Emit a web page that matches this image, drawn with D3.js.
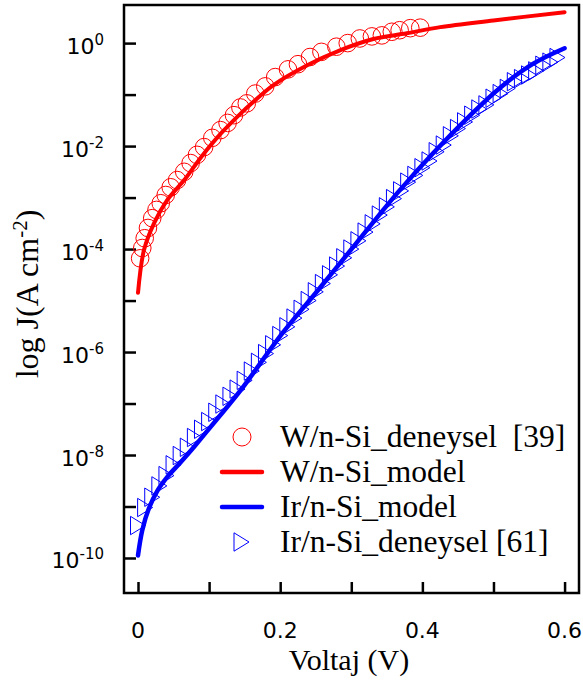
<!DOCTYPE html>
<html>
<head>
<meta charset="utf-8">
<script src="https://cdn.jsdelivr.net/npm/d3@7"></script>
<style>
  body { margin: 0; background: #fff; }
  svg { display: block; }
</style>
</head>
<body>
<svg id="chart"></svg>
<script>
// W/n-Si experimental points (V, log10 J)
const wVolt = [0.003, 0.006, 0.0094, 0.014, 0.020, 0.026, 0.032, 0.039, 0.046, 0.055,
  0.065, 0.074, 0.083, 0.093, 0.1045, 0.116, 0.126, 0.135, 0.144, 0.153,
  0.165, 0.179, 0.193, 0.211, 0.225, 0.242, 0.258, 0.279, 0.295, 0.312,
  0.329, 0.343, 0.357, 0.368, 0.383, 0.397];
const wLogJ = [-4.18, -3.98, -3.79, -3.59, -3.40, -3.24, -3.11, -2.95, -2.80, -2.66,
  -2.50, -2.33, -2.17, -2.02, -1.84, -1.69, -1.55, -1.40, -1.25, -1.17,
  -0.98, -0.84, -0.66, -0.51, -0.41, -0.27, -0.17, -0.07, 0.0, 0.09,
  0.13, 0.15, 0.22, 0.25, 0.29, 0.30];

// W/n-Si model curve
const wModelVolt = [0, 0.0084, 0.0225, 0.041, 0.065, 0.089, 0.117, 0.145, 0.160, 0.190,
  0.238, 0.284, 0.331, 0.378, 0.425, 0.5, 0.6];
const wModelLogJ = [-4.85, -4.02, -3.50, -3.05, -2.66, -2.21, -1.75, -1.36, -1.17, -0.82,
  -0.43, -0.14, 0.08, 0.19, 0.31, 0.44, 0.60];

// Ir/n-Si model curve
const irModelVolt = [0, 0.006, 0.0155, 0.027, 0.041, 0.06, 0.079, 0.0975, 0.121, 0.1445,
  0.204, 0.252, 0.298, 0.345, 0.368, 0.415, 0.463, 0.509, 0.556, 0.6];
const irModelLogJ = [-9.95, -9.46, -9.03, -8.70, -8.43, -8.14, -7.84, -7.53, -7.14, -6.74,
  -5.62, -4.82, -4.04, -3.24, -2.86, -2.14, -1.46, -0.87, -0.40, -0.10];

// Ir/n-Si experimental points
const irVolt = [0, 0.01, 0.02, 0.03, 0.04, 0.05, 0.06, 0.07, 0.08, 0.09,
  0.10, 0.11, 0.12, 0.13, 0.14, 0.15, 0.16, 0.17, 0.18, 0.19,
  0.20, 0.21, 0.22, 0.23, 0.24, 0.25, 0.26, 0.27, 0.28, 0.29,
  0.30, 0.31, 0.32, 0.33, 0.34, 0.35, 0.36, 0.37, 0.38, 0.39,
  0.40, 0.41, 0.42, 0.43, 0.44, 0.45, 0.46, 0.47, 0.48, 0.49,
  0.50, 0.51, 0.52, 0.53, 0.54, 0.55, 0.56, 0.57, 0.58, 0.59];
const irLogJ = [-9.37, -9.02, -8.82, -8.60, -8.40, -8.19, -8.01, -7.85, -7.66, -7.50,
  -7.35, -7.17, -7.01, -6.86, -6.72, -6.55, -6.37, -6.20, -6.03, -5.86,
  -5.68, -5.51, -5.34, -5.17, -5.00, -4.83, -4.67, -4.50, -4.33, -4.17,
  -4.00, -3.84, -3.67, -3.51, -3.34, -3.18, -3.02, -2.87, -2.70, -2.57,
  -2.42, -2.29, -2.11, -1.98, -1.80, -1.66, -1.53, -1.40, -1.28, -1.20,
  -1.07, -0.98, -0.88, -0.75, -0.69, -0.62, -0.54, -0.43, -0.37, -0.28];

const xTicks = [0, 0.1, 0.2, 0.3, 0.4, 0.5, 0.6];
const xLabels = [0, 0.2, 0.4, 0.6];
const yExponents = [0, -1, -2, -3, -4, -5, -6, -7, -8, -9, -10];
const yLabelExponents = [0, -2, -4, -6, -8, -10];

const legendItems = [
  { label: 'W/n-Si_deneysel  [39]', type: 'circle', color: '#ff0000' },
  { label: 'W/n-Si_model', type: 'line', color: '#ff0000' },
  { label: 'Ir/n-Si_model', type: 'line', color: '#0000ff' },
  { label: 'Ir/n-Si_deneysel [61]', type: 'triangle', color: '#0000ff' }
];

const width = 583, height = 684;
const mLeft = 124, mRight = 579, mTop = 5, mBottom = 593;

const svg = d3.select('#chart')
  .attr('width', width)
  .attr('height', height);

const x = d3.scaleLinear()
  .domain([-0.0197, 0.6203])
  .range([mLeft, mRight]);

const y = d3.scaleLog()
  .domain([Math.pow(10, -10.68), Math.pow(10, 0.74)])
  .range([mBottom, mTop]);

const pt = (v, lj) => ({ v: v, j: Math.pow(10, lj) });
const zip = (a, b) => a.map((v, i) => pt(v, b[i]));

// axes (inward ticks)
const yAxis = d3.axisLeft(y)
  .tickValues(yExponents.map(e => Math.pow(10, e)))
  .tickSize(-12)
  .tickFormat('');
svg.append('g')
  .attr('transform', `translate(${mLeft},0)`)
  .call(yAxis)
  .call(g => g.select('.domain').remove())
  .call(g => g.selectAll('line').attr('stroke', '#000').attr('stroke-width', 2.5));

const xAxis = d3.axisBottom(x)
  .tickValues(xTicks)
  .tickSize(-11)
  .tickFormat('');
svg.append('g')
  .attr('transform', `translate(0,${mBottom})`)
  .call(xAxis)
  .call(g => g.select('.domain').remove())
  .call(g => g.selectAll('line').attr('stroke', '#000').attr('stroke-width', 2.5));

// frame
svg.append('rect')
  .attr('x', mLeft).attr('y', mTop)
  .attr('width', mRight - mLeft).attr('height', mBottom - mTop)
  .attr('fill', 'none')
  .attr('stroke', '#000')
  .attr('stroke-width', 2.5);

// tick labels
svg.append('g')
  .selectAll('text')
  .data(xLabels)
  .enter()
  .append('text')
  .attr('x', d => x(d))
  .attr('y', 638)
  .attr('text-anchor', 'middle')
  .style('font-family', 'DejaVu Sans, sans-serif')
  .style('font-size', '22px')
  .text(d => d);

const yl = svg.append('g')
  .selectAll('text')
  .data(yLabelExponents)
  .enter()
  .append('text')
  .attr('x', 104)
  .attr('y', d => y(Math.pow(10, d)) + 10.5)
  .attr('text-anchor', 'end')
  .style('font-family', 'DejaVu Sans, sans-serif')
  .style('font-size', '22px');
yl.append('tspan').text('10');
yl.append('tspan')
  .attr('dy', -9)
  .style('font-size', '15px')
  .text(d => d === 0 ? '0' : '-' + Math.abs(d));

// axis titles
svg.append('text')
  .attr('x', 349)
  .attr('y', 670)
  .attr('text-anchor', 'middle')
  .style('font-family', 'Liberation Serif, Times New Roman, serif')
  .style('font-size', '30px')
  .text('Voltaj (V)');

const yt = svg.append('text')
  .attr('transform', 'translate(38,294) rotate(-90)')
  .attr('text-anchor', 'middle')
  .style('font-family', 'Liberation Serif, Times New Roman, serif')
  .style('font-size', '32px');
yt.append('tspan').text('log J(A cm');
yt.append('tspan').attr('dy', -11).style('font-size', '21px').text('-2');
yt.append('tspan').attr('dy', 11).text(')');

// model curves
const line = d3.line()
  .x(d => x(d.v))
  .y(d => y(d.j))
  .curve(d3.curveCatmullRom.alpha(0.5));

svg.append('path')
  .datum(zip(wModelVolt, wModelLogJ))
  .attr('d', line)
  .attr('fill', 'none')
  .attr('stroke', '#ff0000')
  .attr('stroke-width', 4)
  .attr('stroke-linecap', 'round');

svg.append('path')
  .datum(zip(irModelVolt, irModelLogJ))
  .attr('d', line)
  .attr('fill', 'none')
  .attr('stroke', '#0000ff')
  .attr('stroke-width', 4.5)
  .attr('stroke-linecap', 'round');

// experimental markers
svg.append('g')
  .selectAll('circle')
  .data(zip(wVolt, wLogJ))
  .enter()
  .append('circle')
  .attr('cx', d => x(d.v))
  .attr('cy', d => y(d.j))
  .attr('r', 8.8)
  .attr('fill', 'none')
  .attr('stroke', '#ff0000')
  .attr('stroke-width', 1);

const triPath = 'M-7.5,-9.2L7.5,0L-7.5,9.2Z';
svg.append('g')
  .selectAll('path')
  .data(zip(irVolt, irLogJ))
  .enter()
  .append('path')
  .attr('d', triPath)
  .attr('transform', d => `translate(${x(d.v)},${y(d.j)})`)
  .attr('fill', 'none')
  .attr('stroke', '#0000ff')
  .attr('stroke-width', 1);

// legend
const lg = svg.append('g');
const rows = lg.selectAll('g')
  .data(legendItems)
  .enter()
  .append('g')
  .attr('transform', (d, i) => `translate(0,${437 + i * 35})`);

rows.each(function (d) {
  const g = d3.select(this);
  if (d.type === 'circle') {
    g.append('circle').attr('cx', 242).attr('cy', 0).attr('r', 9)
      .attr('fill', 'none').attr('stroke', d.color).attr('stroke-width', 1);
  } else if (d.type === 'line') {
    g.append('line').attr('x1', 222).attr('x2', 262).attr('y1', 0).attr('y2', 0)
      .attr('stroke', d.color).attr('stroke-width', 4.5).attr('stroke-linecap', 'round');
  } else {
    g.append('path').attr('d', triPath).attr('transform', 'translate(241.5,0)')
      .attr('fill', 'none').attr('stroke', d.color).attr('stroke-width', 1);
  }
  g.append('text')
    .attr('x', 280)
    .attr('y', 10)
    .style('font-family', 'Liberation Serif, Times New Roman, serif')
    .style('font-size', '31.5px')
    .style('white-space', 'pre')
    .text(d.label);
});
</script>
</body>
</html>
